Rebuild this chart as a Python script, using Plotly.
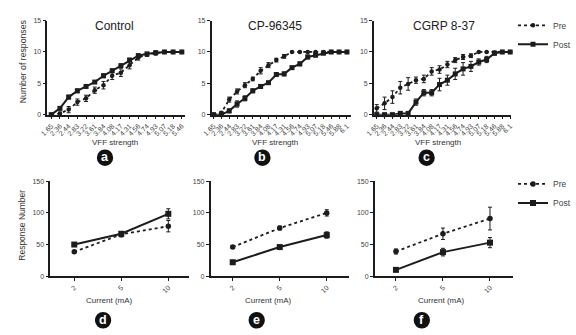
import plotly.graph_objects as go

W, H = 576, 335

# ---------------- data ----------------
vff_a = ["1.65", "2.36", "2.44", "2.83", "3.22", "3.61", "3.84", "4.08", "4.17", "4.31",
         "4.56", "4.74", "4.93", "5.07", "5.18", "5.46"]
vff_bc = vff_a + ["5.88", "6.1"]

ctrl_pre = [0, 0.2, 0.8, 2.0, 2.6, 3.9, 4.7, 6.2, 6.7, 7.9, 9.1, 9.6, 9.8, 10, 10, 10]
ctrl_pre_err = [0, 0.2, 0.5, 0.5, 0.5, 0.5, 0.6, 0.6, 0.6, 0.6, 0.4, 0.3, 0.3, 0, 0, 0]
ctrl_post = [0, 1.0, 2.8, 3.8, 4.5, 5.2, 6.2, 7.0, 7.8, 8.7, 9.4, 9.7, 9.9, 10, 10, 10]
ctrl_post_err = [0, 0.2, 0.3, 0.3, 0.2, 0.2, 0.3, 0.3, 0.3, 0.3, 0.3, 0.2, 0.2, 0, 0, 0]

cp_pre = [0, 0.3, 2.4, 3.7, 4.7, 5.7, 7.0, 7.9, 8.7, 9.3, 10, 10, 10, 10, 10, 10, 10, 10]
cp_pre_err = [0, 0.2, 0.4, 0.4, 0.4, 0.3, 0.5, 0.4, 0.3, 0.3, 0, 0, 0, 0, 0, 0, 0, 0]
cp_post = [0, 0, 0.6, 1.7, 2.6, 3.8, 4.5, 5.1, 6.4, 6.5, 7.5, 8.1, 9.2, 9.5, 9.8, 10, 10, 10]
cp_post_err = [0, 0, 0.3, 0.5, 0.4, 0.3, 0.3, 0.2, 0.3, 0.3, 0.2, 0.3, 0.3, 0.3, 0.2, 0, 0, 0]

cg_pre = [1.0, 1.8, 2.8, 4.3, 4.9, 5.5, 5.7, 6.9, 7.2, 8.0, 8.7, 9.2, 9.4, 10, 10, 9.9, 10, 10]
cg_pre_err = [0.6, 1.0, 1.0, 1.0, 1.0, 0.5, 0.6, 0.6, 0.6, 0.5, 0.4, 0.4, 0.3, 0, 0, 0.2, 0, 0]
cg_post = [0, 0, 0, 0.2, 0.2, 2.0, 3.5, 3.5, 4.8, 5.5, 6.5, 7.3, 7.7, 8.4, 8.8, 9.8, 10, 10]
cg_post_err = [0, 0, 0, 0.2, 0.2, 0.5, 0.5, 0.5, 1.0, 0.8, 0.9, 1.0, 0.8, 0.5, 0.5, 0.3, 0, 0]

current = ["2", "5", "10"]
d_pre, d_pre_err = [38.5, 66, 79], [2, 4, 9]
d_post, d_post_err = [50, 67, 98.5], [2, 3, 8]
e_pre, e_pre_err = [46, 76, 100], [2, 3, 5]
e_post, e_post_err = [22, 46, 65], [3, 3, 5]
f_pre, f_pre_err = [39, 67, 91], [4, 9, 18]
f_post, f_post_err = [10, 38, 53], [2, 6, 8]

titles = ["Control", "CP-96345", "CGRP 8-37"]
letters = ["a", "b", "c", "d", "e", "f"]

# ---------------- layout helpers ----------------
INK = "#1c1c1c"
FONT = "Liberation Sans, Arial, sans-serif"

def px_x(v):
    return v / W

def px_y(v):
    return 1 - v / H

fig = go.Figure()

# panel geometry (pixels): x0, x1, y_top, y_bottom, xrange
panels = [
    (40, 183, 17, 113, [-0.44, 15.33]),
    (211, 356, 17, 113, [-0.25, 17.49]),
    (380, 523, 17, 113, [-0.37, 17.12]),
    (43, 187, 181, 278, [-0.51, 2.43]),
    (210, 354, 181, 278, [-0.47, 2.47]),
    (381, 525, 181, 278, [-0.45, 2.49]),
]

series = [
    (vff_a, ctrl_pre, ctrl_pre_err, ctrl_post, ctrl_post_err),
    (vff_bc, cp_pre, cp_pre_err, cp_post, cp_post_err),
    (vff_bc, cg_pre, cg_pre_err, cg_post, cg_post_err),
    (current, d_pre, d_pre_err, d_post, d_post_err),
    (current, e_pre, e_pre_err, e_post, e_post_err),
    (current, f_pre, f_pre_err, f_post, f_post_err),
]

for i, (xs, pre, pre_e, post, post_e) in enumerate(series):
    n = i + 1
    xa = "x" if n == 1 else f"x{n}"
    ya = "y" if n == 1 else f"y{n}"
    top = i < 3
    leg = "legend"
    show = False
    if i == 2:
        leg, show = "legend", True
    elif i == 5:
        leg, show = "legend2", True
    ms_pre = 4.5 if top else 5.5
    ms_post = 5 if top else 6
    fig.add_trace(go.Scatter(
        x=xs, y=pre, xaxis=xa, yaxis=ya, name="Pre", mode="lines+markers",
        line=dict(color=INK, width=1.8, dash="dot"),
        marker=dict(symbol="circle", size=ms_pre, color=INK),
        error_y=dict(type="data", array=pre_e, color=INK, thickness=1, width=2),
        cliponaxis=False, showlegend=show, legend=leg))
    fig.add_trace(go.Scatter(
        x=xs, y=post, xaxis=xa, yaxis=ya, name="Post", mode="lines+markers",
        line=dict(color=INK, width=2),
        marker=dict(symbol="square", size=ms_post, color=INK),
        error_y=dict(type="data", array=post_e, color=INK, thickness=1, width=2),
        cliponaxis=False, showlegend=show, legend=leg))

layout = dict(
    width=W, height=H, margin=dict(l=0, r=0, t=0, b=0),
    paper_bgcolor="white", plot_bgcolor="white",
    font=dict(family=FONT, color="#333", size=7),
)

for i, (x0, x1, yt, yb, xr) in enumerate(panels):
    n = i + 1
    top = i < 3
    xs = series[i][0]
    xkey = "xaxis" if n == 1 else f"xaxis{n}"
    ykey = "yaxis" if n == 1 else f"yaxis{n}"
    ya = "y" if n == 1 else f"y{n}"
    xa = "x" if n == 1 else f"x{n}"
    layout[xkey] = dict(
        domain=[px_x(x0), px_x(x1)], anchor=ya, type="category", range=xr,
        tickmode="array", tickvals=xs, ticktext=xs,
        showline=True, linecolor=INK, linewidth=1.5, ticks="outside", ticklen=3,
        tickwidth=1, tickcolor=INK, showgrid=False, zeroline=False,
        tickangle=-45, tickfont=dict(size=7, color="#444"),
        fixedrange=True)
    layout[ykey] = dict(
        domain=[px_y(yb), px_y(yt)], anchor=xa,
        range=[0, 15] if top else [0, 150], dtick=5 if top else 50,
        showline=True, linecolor=INK, linewidth=1.5, ticks="outside", ticklen=3,
        tickwidth=1, tickcolor=INK, showgrid=False, zeroline=False,
        tickfont=dict(size=7, color="#444"), fixedrange=True)

layout["legend"] = dict(x=px_x(525), y=px_y(7), xanchor="left", yanchor="top",
                        font=dict(size=8.5, color="#444"), bgcolor="rgba(0,0,0,0)",
                        tracegroupgap=0, itemwidth=30)
layout["legend2"] = dict(x=px_x(525), y=px_y(169), xanchor="left", yanchor="top",
                         font=dict(size=8.5, color="#444"), bgcolor="rgba(0,0,0,0)",
                         tracegroupgap=0, itemwidth=30)

annotations = []
shapes = []

def ann(text, cx, cy, size, color="#333", angle=0, family=FONT):
    annotations.append(dict(text=text, x=px_x(cx), y=px_y(cy), xref="paper", yref="paper",
                            xanchor="center", yanchor="middle", showarrow=False,
                            textangle=angle, font=dict(size=size, color=color, family=family)))

# panel titles
for t, cx in zip(titles, [110, 277, 453]):
    ann(t, cx, 22, 12, "#222")
# x titles
for cx in [110, 277, 447]:
    ann("VFF strength", cx, 141, 8)
for cx in [105, 270, 450]:
    ann("Current (mA)", cx, 303, 8)
# y titles
ann("Number of responses", 14, 58, 8.7, angle=-90)
ann("Response Number", 14, 226, 8.5, angle=-90)
# letter badges
badges = [(100, 157), (264, 157), (435, 157), (98, 323), (258, 323), (430, 323)]
r = 8.5
for (cx, cy), L in zip(badges, letters):
    shapes.append(dict(type="circle", xref="paper", yref="paper",
                       x0=px_x(cx - r), x1=px_x(cx + r), y0=px_y(cy + r), y1=px_y(cy - r),
                       fillcolor="#111", line=dict(width=0)))
    ann(f"<b>{L}</b>", cx, cy - 0.5, 12.5, "white")

layout["annotations"] = annotations
layout["shapes"] = shapes
fig.update_layout(**layout)

fig.write_html("out.html")
